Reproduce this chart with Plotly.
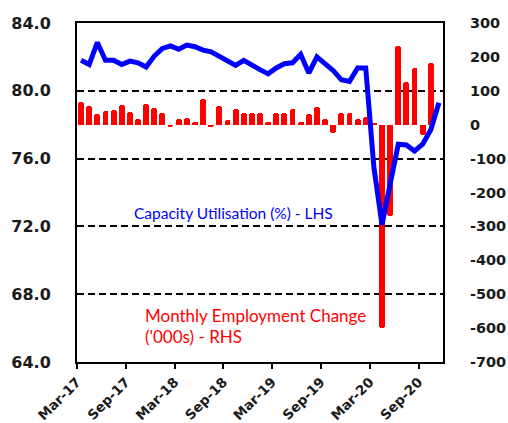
import plotly.graph_objects as go
import pandas as pd

months = list(pd.date_range("2017-03-01", "2020-11-01", freq="MS").strftime("%b-%y"))

capacity_util = [81.8, 81.55, 82.85, 81.8, 81.8, 81.55, 81.75, 81.65, 81.4, 82.05,
                 82.5, 82.65, 82.45, 82.7, 82.6, 82.4, 82.3, 82.05, 81.8, 81.5,
                 81.8, 81.5, 81.25, 81.0, 81.35, 81.6, 81.65, 82.15, 81.05, 82.0,
                 81.6, 81.2, 80.65, 80.55, 81.35, 81.35, 75.5, 72.1, 74.5, 76.85,
                 76.8, 76.45, 76.85, 77.7, 79.3]

employment_change = [67, 55, 32, 40, 43, 59, 37, 18, 60, 50,
                     35, -8, 17, 20, 8, 77, -8, 55, 15, 45,
                     36, 36, 36, 8, 36, 36, 46, 8, 31, 51,
                     16, -25, 35, 35, 16, 22, 5, -600, -268, 232,
                     126, 167, -30, 182, None]

left_ticks = [64, 68, 72, 76, 80, 84]
right_ticks = list(range(-700, 301, 100))

x = list(range(len(months)))
xtickvals = [i - 0.5 for i in range(0, len(months), 6)]
xticktext = months[::6]

tick_font = dict(family="DejaVu Sans", size=16, color="#1a1a1a", weight="bold")
right_font = dict(family="DejaVu Sans", size=14.5, color="#1a1a1a", weight="bold")
x_font = dict(family="DejaVu Sans", size=13.5, color="#1a1a1a", weight="bold")

fig = go.Figure()
fig.add_trace(go.Bar(
    x=x, y=employment_change, yaxis="y",
    marker=dict(color="#FF0000", line=dict(width=0), cornerradius=3),
    width=0.72, showlegend=False,
))
fig.add_trace(go.Scatter(
    x=x, y=capacity_util, yaxis="y2", mode="lines",
    line=dict(color="#0000FF", width=5), showlegend=False,
))

fig.update_layout(
    width=508, height=423,
    margin=dict(l=77, r=65, t=23, b=61),
    paper_bgcolor="white", plot_bgcolor="white",
    bargap=0,
    xaxis=dict(
        range=[-0.5, len(months) - 0.5], automargin=False,
        tickvals=xtickvals, ticktext=xticktext, tickangle=-45,
        ticks="outside", ticklen=5, tickwidth=2, tickcolor="black",
        showline=True, linewidth=2, linecolor="black", mirror=True,
        showgrid=False, zeroline=False, tickfont=x_font,
    ),
    yaxis=dict(
        side="right", range=[-700, 300], tickvals=right_ticks, automargin=False,
        ticktext=[str(v) for v in right_ticks],
        showline=True, linewidth=2, linecolor="black",
        showgrid=False, zeroline=False, ticks="",
        tickfont=right_font, ticklabelstandoff=22,
    ),
    yaxis2=dict(
        side="left", overlaying="y", range=[64, 84], tickvals=left_ticks, automargin=False,
        ticktext=[f"{v:.1f}" for v in left_ticks],
        showline=True, linewidth=2, linecolor="black",
        showgrid=True, gridcolor="black", gridwidth=2, griddash="7px,4px",
        zeroline=False, ticks="",
        tickfont=tick_font, ticklabelstandoff=21,
    ),
    annotations=[
        dict(text="Capacity Utilisation (%) - LHS", xref="paper", yref="paper",
             x=0.151, y=0.44, xanchor="left", yanchor="middle", showarrow=False,
             font=dict(family="Lato", size=15.5, color="#0000FF")),
        dict(text="Monthly Employment Change", xref="paper", yref="paper",
             x=0.180, y=0.136, xanchor="left", yanchor="middle", showarrow=False,
             font=dict(family="Lato", size=17, color="#FF0000")),
        dict(text="('000s) - RHS", xref="paper", yref="paper",
             x=0.180, y=0.074, xanchor="left", yanchor="middle", showarrow=False,
             font=dict(family="Lato", size=17, color="#FF0000")),
    ],
)

fig.write_html(
    "out.html",
    config={"displayModeBar": False},
    post_script="document.body.style.margin='0';document.body.style.overflow='hidden';",
)
